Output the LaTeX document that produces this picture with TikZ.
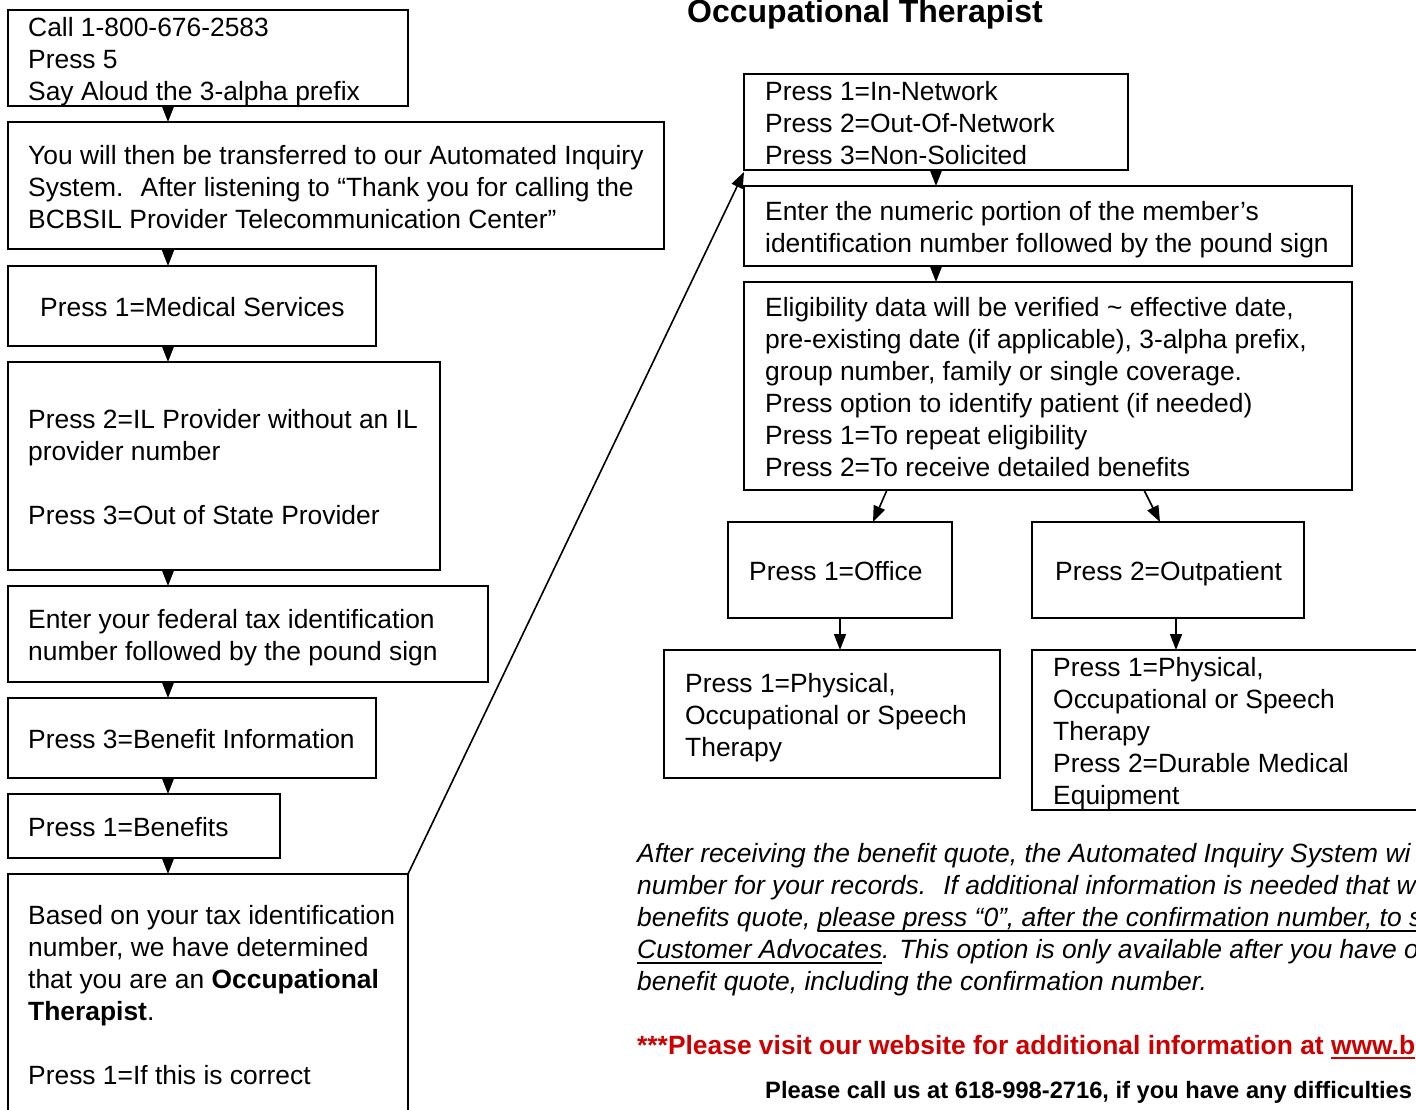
\documentclass[tikz,border=0pt]{standalone}
\usepackage{fontspec}
\setmainfont{Liberation Sans}
\usetikzlibrary{arrows.meta}
\definecolor{linkred}{RGB}{204,0,0}
\newsavebox{\ulxbox}
\newcommand{\ulx}[1]{\sbox{\ulxbox}{#1}\rlap{\rule[-5pt]{\wd\ulxbox}{1.8pt}}\usebox{\ulxbox}}
\begin{document}
\begin{tikzpicture}[x=1pt,y=-1pt,
  box/.style={draw, line width=2pt, rectangle, inner sep=0pt, outer sep=0pt},
  txt/.style={align=left, inner sep=0pt, anchor=west, font=\fontsize{26.4}{32}\selectfont},
  arr/.style={-{Triangle[length=16pt,width=12pt]}, line width=1.6pt}]
\useasboundingbox (0,0) rectangle (1416,1110);
\clip (0,0) rectangle (1416,1110);

% ---------- left column boxes ----------
\node[box, minimum width=400pt, minimum height=96pt]  (b1) at (208,58) {};
\node[box, minimum width=656pt, minimum height=127pt] (b2) at (336,185.5) {};
\node[box, minimum width=368pt, minimum height=80pt]  (b3) at (192,306) {};
\node[box, minimum width=432pt, minimum height=208pt] (b4) at (224,466) {};
\node[box, minimum width=480pt, minimum height=96pt]  (b5) at (248,634) {};
\node[box, minimum width=368pt, minimum height=80pt]  (b6) at (192,738) {};
\node[box, minimum width=272pt, minimum height=64pt]  (b7) at (144,826) {};
\node[box, minimum width=400pt, minimum height=242pt] (b8) at (208,995) {};

\node[txt] (t1) at ([xshift=20pt,yshift=-4pt]b1.west) {Call 1-800-676-2583\\Press 5\\Say Aloud the 3-alpha prefix};
\node[txt] (t2) at ([xshift=20pt,yshift=-2pt]b2.west) {You will then be transferred to our Automated Inquiry\\System.~ After listening to “Thank you for calling the\\BCBSIL Provider Telecommunication Center”};
\node[txt] (t3) at ([xshift=32pt,yshift=-1pt]b3.west) {Press 1=Medical Services};
\node[txt] (t4) at ([xshift=20pt,yshift=-1pt]b4.west) {Press 2=IL Provider without an IL\\provider number\\[32pt]Press 3=Out of State Provider};
\node[txt] (t5) at ([xshift=20pt,yshift=-4pt]b5.west) {Enter your federal tax identification\\number followed by the pound sign};
\node[txt] (t6) at ([xshift=20pt,yshift=-1pt]b6.west) {Press 3=Benefit Information};
\node[txt] (t7) at ([xshift=20pt,yshift=-1pt]b7.west) {Press 1=Benefits};
\node[txt] (t8) at ([xshift=20pt]b8.west) {Based on your tax identification\\number, we have determined\\that you are an \textbf{Occupational}\\\textbf{Therapist}.\\[32pt]Press 1=If this is correct};

% ---------- right column ----------
\node[anchor=base west, inner sep=0pt, font=\fontsize{32}{38}\selectfont\bfseries] (title) at (687,23) {Occupational Therapist};

\node[box, minimum width=384pt, minimum height=96pt]  (r1) at (936,122) {};
\node[box, minimum width=608pt, minimum height=80pt]  (r2) at (1048,226) {};
\node[box, minimum width=608pt, minimum height=208pt] (r3) at (1048,386) {};
\node[box, minimum width=224pt, minimum height=96pt]  (r4) at (840,570) {};
\node[box, minimum width=272pt, minimum height=96pt]  (r5) at (1168,570) {};
\node[box, minimum width=336pt, minimum height=128pt] (r6) at (832,714) {};
\node[box, minimum width=418pt, minimum height=160pt] (r7) at (1241,730) {};

\node[txt] (s1) at ([xshift=21pt,yshift=-1pt]r1.west) {Press 1=In-Network\\Press 2=Out-Of-Network\\Press 3=Non-Solicited};
\node[txt] (s2) at ([xshift=21pt,yshift=-4pt]r2.west) {Enter the numeric portion of the member’s\\identification number followed by the pound sign};
\node[txt] (s3) at ([xshift=21pt,yshift=-1pt]r3.west) {Eligibility data will be verified \textasciitilde{} effective date,\\pre-existing date (if applicable), 3-alpha prefix,\\group number, family or single coverage.\\Press option to identify patient (if needed)\\Press 1=To repeat eligibility\\Press 2=To receive detailed benefits};
\node[txt] (s4) at ([xshift=21pt,yshift=-1pt]r4.west) {Press 1=Office};
\node[txt] (s5) at ([xshift=23pt,yshift=-4pt]r5.west) {Press 2=Outpatient};
\node[txt] (s6) at ([xshift=21pt,yshift=-4pt]r6.west) {Press 1=Physical,\\Occupational or Speech\\Therapy};
\node[txt] (s7) at ([xshift=21pt,yshift=-4pt]r7.west) {Press 1=Physical,\\Occupational or Speech\\Therapy\\Press 2=Durable Medical\\Equipment};

% ---------- bottom texts ----------
\node[txt, font=\fontsize{26.4}{32}\selectfont\itshape] (note) at (637,920) {After receiving the benefit quote, the Automated Inquiry System wi\\number for your records.~ If additional information is needed that w\\benefits quote, \ulx{please press “0”, after the confirmation number, to s}\\\ulx{Customer Advocates}. This option is only available after you have o\\benefit quote, including the confirmation number.};
\node[txt, font=\fontsize{26.4}{32}\selectfont\bfseries, text=linkred] (web) at (637,1047) {***Please visit our website for additional information at \ulx{www.b}};
\node[txt, font=\fontsize{23.7}{28}\selectfont\bfseries] (call) at (765,1092) {Please call us at 618-998-2716, if you have any difficulties};

% ---------- connectors ----------
\coordinate (colL) at (168,0);
\coordinate (colR) at (936,0);
\draw[arr] (b1.south -| colL) -- (b2.north -| colL);
\draw[arr] (b2.south -| colL) -- (b3.north -| colL);
\draw[arr] (b3.south -| colL) -- (b4.north -| colL);
\draw[arr] (b4.south -| colL) -- (b5.north -| colL);
\draw[arr] (b5.south -| colL) -- (b6.north -| colL);
\draw[arr] (b6.south -| colL) -- (b7.north -| colL);
\draw[arr] (b7.south -| colL) -- (b8.north -| colL);
\draw[arr] (b8.north east) -- ([yshift=-2pt]r1.south west);
\draw[arr] (r1.south -| colR) -- (r2.north -| colR);
\draw[arr] (r2.south -| colR) -- (r3.north -| colR);
\coordinate (d1s) at (887,0);
\coordinate (d1e) at (873,0);
\coordinate (d2s) at (1144,0);
\coordinate (d2e) at (1160,0);
\draw[arr] (r3.south -| d1s) -- (r4.north -| d1e);
\draw[arr] (r3.south -| d2s) -- (r5.north -| d2e);
\draw[arr] (r4.south) -- (r6.north -| r4.south);
\coordinate (colO) at (1176,0);
\draw[arr] (r5.south -| colO) -- (r7.north -| colO);
\end{tikzpicture}
\end{document}
